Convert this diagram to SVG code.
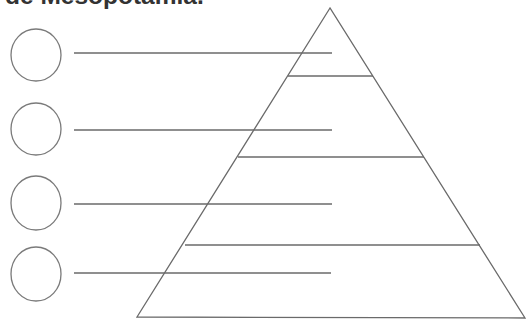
<svg xmlns="http://www.w3.org/2000/svg" width="529" height="322" viewBox="0 0 529 322">
<style>
.ln{stroke:#6a6a6a;stroke-width:1.3;fill:none}
.c{stroke:#7a7a7a;stroke-width:1.3;fill:none}
.t{font-family:"Liberation Sans",Arial,sans-serif;font-weight:bold;font-size:24.5px;fill:#333}
</style>
<rect width="529" height="322" fill="#fff"/>
<text class="t" x="5" y="4">de Mesopotamia.</text>
<g id="pyramid">
<polygon class="ln" points="330,8 137,317 525,318"/>
<line class="ln" x1="288" y1="76" x2="373" y2="76"/>
<line class="ln" x1="238" y1="157" x2="424" y2="157"/>
<line class="ln" x1="185" y1="245" x2="480" y2="245"/>
</g>
<g id="node1"><ellipse class="c" cx="36" cy="55" rx="25" ry="26"/></g>
<g id="node2"><ellipse class="c" cx="36" cy="129" rx="25" ry="26"/></g>
<g id="node3"><ellipse class="c" cx="36" cy="203" rx="25" ry="27"/></g>
<g id="node4"><ellipse class="c" cx="36" cy="274" rx="25" ry="27"/></g>
<g id="connectors">
<line class="ln" x1="74" y1="53" x2="332" y2="53"/>
<line class="ln" x1="74" y1="130" x2="332" y2="130"/>
<line class="ln" x1="74" y1="204" x2="332" y2="204"/>
<line class="ln" x1="74" y1="273" x2="331" y2="273"/>
</g>
</svg>
